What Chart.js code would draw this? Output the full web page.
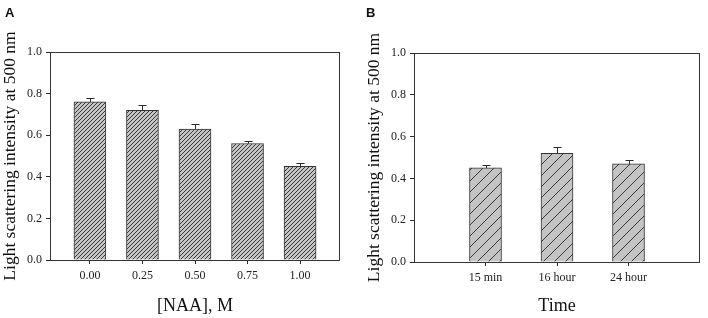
<!DOCTYPE html>
<html>
<head>
<meta charset="utf-8">
<script src="https://cdn.jsdelivr.net/npm/chart.js@4/dist/chart.umd.min.js"></script>
<style>
  body { margin: 0; background: #fff; }
  #wrap { position: relative; width: 708px; height: 318px; overflow: hidden; }
  .panel { position: absolute; top: 0; width: 354px; height: 318px; }
  .tag { position: absolute; font: bold 13px "Liberation Sans", Arial, sans-serif; line-height: 13px; color: #111; }
</style>
</head>
<body>
<div id="wrap">
  <div class="panel" style="left:0"><canvas id="chartA" width="354" height="318"></canvas></div>
  <div class="panel" style="left:354px"><canvas id="chartB" width="354" height="318"></canvas></div>
  <div class="tag" style="left:5px;top:6px">A</div>
  <div class="tag" style="left:366px;top:6px">B</div>
</div>
<script>
// panel A
const naaLabels = ['0.00', '0.25', '0.50', '0.75', '1.00'];
const naaValues = [0.76, 0.72, 0.63, 0.56, 0.45];
const naaErrors = [0.02, 0.025, 0.025, 0.012, 0.015];

// panel B
const timeLabels = ['15 min', '16 hour', '24 hour'];
const timeValues = [0.45, 0.52, 0.47];
const timeErrors = [0.015, 0.03, 0.018];

const yTicks = [0, 0.2, 0.4, 0.6, 0.8, 1.0];
const yTitle = 'Light scattering intensity at 500 nm';

const serif = '"Liberation Serif", "Times New Roman", serif';
const ink = '#2a2a2a';

// diagonal hatch fill
const hatch = (period) => {
  const c = document.createElement('canvas');
  c.width = period; c.height = period;
  const g = c.getContext('2d');
  g.fillStyle = '#c4c4c4';
  g.fillRect(0, 0, period, period);
  g.strokeStyle = '#3a3a3a';
  g.lineWidth = 1;
  g.beginPath();
  g.moveTo(0, period); g.lineTo(period, 0);
  g.moveTo(-1, 1); g.lineTo(1, -1);
  g.moveTo(period - 1, period + 1); g.lineTo(period + 1, period - 1);
  g.stroke();
  return g.createPattern(c, 'repeat');
};

const framePlugin = {
  id: 'frame',
  afterDraw(chart) {
    const { ctx, chartArea: a } = chart;
    ctx.save();
    ctx.strokeStyle = '#333';
    ctx.lineWidth = 1;
    ctx.strokeRect(Math.round(a.left) + 0.5, Math.round(a.top) + 0.5,
      Math.round(a.right - a.left) - 1, Math.round(a.bottom - a.top));
    ctx.restore();
  }
};

const errorPlugin = {
  id: 'errbars',
  afterDatasetsDraw(chart, args, opts) {
    const { ctx, scales: { x, y } } = chart;
    const vals = opts.values, errs = opts.errors;
    ctx.save();
    ctx.strokeStyle = ink;
    ctx.lineWidth = 1;
    vals.forEach((v, i) => {
      const px = Math.round(x.getPixelForValue(i)) + 0.5;
      const top = Math.round(y.getPixelForValue(v + errs[i])) + 0.5;
      const base = y.getPixelForValue(v);
      ctx.beginPath();
      ctx.moveTo(px, base);
      ctx.lineTo(px, top);
      ctx.moveTo(px - 4, top);
      ctx.lineTo(px + 4, top);
      ctx.stroke();
    });
    ctx.restore();
  }
};

const makeChart = (id, labels, values, errors, cfg) => {
  const ctx = document.querySelector(id).getContext('2d');
  return new Chart(ctx, {
    type: 'bar',
    data: {
      datasets: [{
        data: values.map((v, i) => ({ x: i, y: v })),
        backgroundColor: hatch(cfg.period),
        borderColor: '#333',
        borderWidth: 1,
        barThickness: 32
      }]
    },
    options: {
      responsive: false,
      animation: false,
      layout: { padding: { top: cfg.top, right: cfg.right, left: 0, bottom: 0 } },
      plugins: {
        legend: { display: false },
        tooltip: { enabled: false },
        errbars: { values: values, errors: errors }
      },
      scales: {
        x: {
          type: 'linear',
          offset: false,
          min: cfg.xmin,
          max: cfg.xmax,
          afterBuildTicks: (s) => { s.ticks = labels.map((_, i) => ({ value: i })); },
          afterFit: (s) => { s.height = cfg.xh; },
          grid: { display: true, offset: false, drawOnChartArea: false, drawTicks: true, tickLength: 4, color: ink },
          border: { display: false },
          ticks: {
            autoSkip: false, maxRotation: 0, padding: 5, color: '#222',
            font: { family: serif, size: 12 },
            callback: (v) => labels[v] ?? ''
          },
          title: {
            display: true, text: cfg.xTitle, color: '#111',
            font: { family: serif, size: 18 },
            padding: { top: 0, bottom: 1 }
          }
        },
        y: {
          min: 0,
          max: 1,
          afterBuildTicks: (s) => { s.ticks = yTicks.map(v => ({ value: v })); },
          afterFit: (s) => { s.width = cfg.yw; },
          grid: { display: true, drawOnChartArea: false, drawTicks: true, tickLength: 4, color: ink },
          border: { display: false },
          ticks: {
            padding: 4, color: '#222',
            font: { family: serif, size: 12 },
            callback: (v) => v.toFixed(1)
          },
          title: {
            display: true, text: yTitle, color: '#111',
            font: { family: serif, size: 17.5 },
            padding: { top: cfg.ytPad, bottom: 0 }
          }
        }
      }
    },
    plugins: [framePlugin, errorPlugin]
  });
};

makeChart('#chartA', naaLabels, naaValues, naaErrors, {
  period: 4, top: 52, right: 14, xh: 58, yw: 50, ytPad: 0,
  xmin: -0.76, xmax: 4.76, xTitle: '[NAA], M'
});

makeChart('#chartB', timeLabels, timeValues, timeErrors, {
  period: 11, top: 53, right: 8, xh: 56, yw: 60, ytPad: 9.5,
  xmin: -1, xmax: 3, xTitle: 'Time'
});
</script>
</body>
</html>
